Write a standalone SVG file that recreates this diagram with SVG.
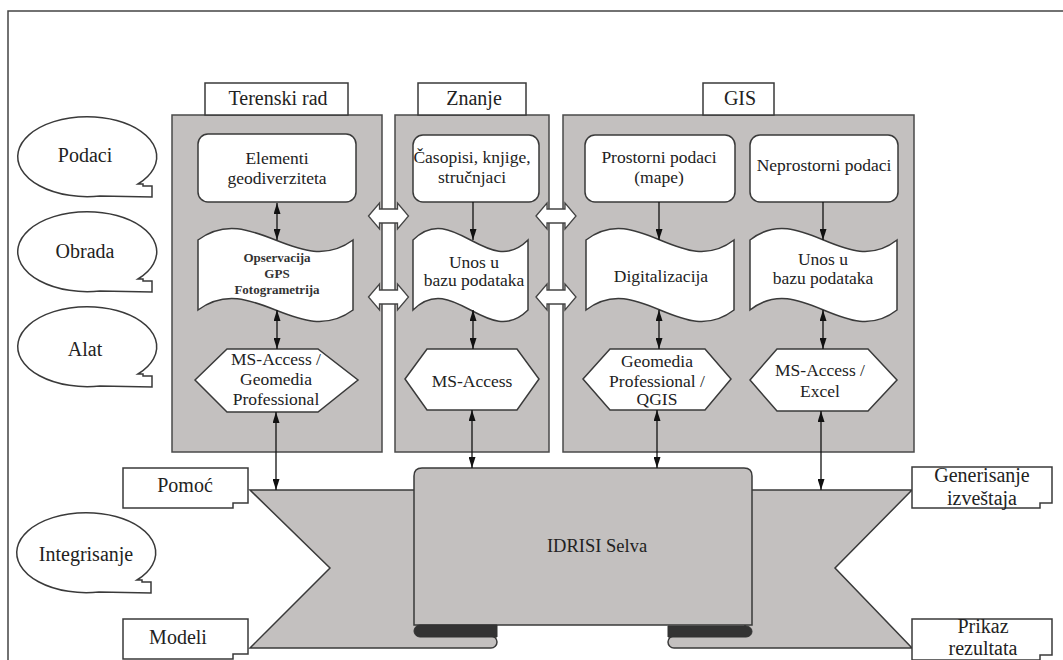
<svg xmlns="http://www.w3.org/2000/svg" width="1063" height="660" viewBox="0 0 1063 660">
<defs>
<marker id="ah" viewBox="0 0 11 7" refX="11" refY="3.5" markerWidth="11" markerHeight="7" markerUnits="userSpaceOnUse" orient="auto-start-reverse"><path d="M0,0 L11,3.5 L0,7 Z" fill="#111"/></marker>
<style>
.t{font-family:"Liberation Serif","Times New Roman",serif;fill:#222;text-anchor:middle}
.big{font-size:20px}
.nd{font-size:17.5px}
.sm{font-size:13px;font-weight:bold;fill:#333}
.panel{fill:#c3c0bf;stroke:#4a4a4a;stroke-width:1.5}
.box{fill:#fff;stroke:#3a3a3a;stroke-width:1.5}
.rib{fill:#c3c0bf;stroke:#3a3a3a;stroke-width:1.5}
.dark{fill:#333;stroke:#333;stroke-width:1}
.con{stroke:#111;stroke-width:1.3;fill:none}
.blk{fill:#fff;stroke:#444;stroke-width:1.3}
</style>
</defs>
<rect width="1063" height="660" fill="#fff"/>
<path d="M8,660 V11 H1063" fill="none" stroke="#444" stroke-width="1.5"/>

<g id="callout-podaci"><path class="box" d="M100,196 A69.5,40 0 1 1 138,184 L143,184 L143,186 L152,186 L152,197 Z"/><text class="t big" x="85" y="162">Podaci</text></g>
<g id="callout-obrada"><path class="box" d="M100,291 A69.5,40 0 1 1 138,279 L143,279 L143,281 L152,281 L152,292 Z"/><text class="t big" x="85" y="258">Obrada</text></g>
<g id="callout-alat"><path class="box" d="M100,386 A69.5,40 0 1 1 138,374 L143,374 L143,376 L152,376 L152,387 Z"/><text class="t big" x="85" y="356">Alat</text></g>
<g id="callout-integrisanje"><path class="box" d="M99,592 A69.5,40 0 1 1 137,580 L142,580 L142,582 L151,582 L151,593 Z"/><text class="t big" x="86" y="561">Integrisanje</text></g>

<g id="panel-teren"><rect class="panel" x="172" y="115" width="210" height="337"/><rect class="box" x="205" y="83" width="143" height="32"/><text class="t big" x="278" y="105">Terenski rad</text></g>
<g id="panel-znanje"><rect class="panel" x="395" y="115" width="154" height="337"/><rect class="box" x="418" y="83" width="108" height="32"/><text class="t big" x="474" y="105">Znanje</text></g>
<g id="panel-gis"><rect class="panel" x="563" y="115" width="351" height="337"/><rect class="box" x="703" y="83" width="71" height="32"/><text class="t big" x="740" y="105">GIS</text></g>

<g id="n-elementi"><rect class="box" x="198" y="134" width="158" height="68" rx="10"/><text class="t nd" x="277" y="164">Elementi</text><text class="t nd" x="277" y="184">geodiverziteta</text></g>
<g id="n-casopisi"><rect class="box" x="413" y="135" width="126" height="67" rx="10"/><text class="t nd" x="472" y="163">Časopisi, knjige,</text><text class="t nd" x="472" y="183">stručnjaci</text></g>
<g id="n-prostorni"><rect class="box" x="585" y="135" width="150" height="67" rx="10"/><text class="t nd" x="659" y="163">Prostorni podaci</text><text class="t nd" x="659" y="183">(mape)</text></g>
<g id="n-neprostorni"><rect class="box" x="750" y="135" width="148" height="67" rx="10"/><text class="t nd" x="824" y="171">Neprostorni podaci</text></g>

<g id="w-opservacija"><path class="box" d="M198,240 C252,200 299,280 353,240 L353,310 C299,350 252,270 198,310 Z"/><text class="t sm" x="277" y="262">Opservacija</text><text class="t sm" x="277" y="278">GPS</text><text class="t sm" x="277" y="294">Fotogrametrija</text></g>
<g id="w-unos1"><path class="box" d="M413,240 C453,200 488,280 528,240 L528,310 C488,350 453,270 413,310 Z"/><text class="t nd" x="474" y="268">Unos u</text><text class="t nd" x="474" y="286">bazu podataka</text></g>
<g id="w-digitalizacija"><path class="box" d="M586,240 C638,200 682,280 734,240 L734,310 C682,350 638,270 586,310 Z"/><text class="t nd" x="661" y="282">Digitalizacija</text></g>
<g id="w-unos2"><path class="box" d="M750,240 C801,200 846,280 897,240 L897,310 C846,350 801,270 750,310 Z"/><text class="t nd" x="823" y="265">Unos u</text><text class="t nd" x="823" y="284">bazu podataka</text></g>

<g id="h-msgeo"><polygon class="box" points="195,380 227,349 318,349 358,380 318,412 227,412"/><text class="t nd" x="276" y="365">MS-Access /</text><text class="t nd" x="276" y="385">Geomedia</text><text class="t nd" x="276" y="405">Professional</text></g>
<g id="h-ms"><polygon class="box" points="405,379 427,349 517,349 539,379 517,410 427,410"/><text class="t nd" x="472" y="387">MS-Access</text></g>
<g id="h-geoqgis"><polygon class="box" points="583,379 610,349 705,349 731,379 705,410 610,410"/><text class="t nd" x="657" y="367">Geomedia</text><text class="t nd" x="657" y="387">Professional /</text><text class="t nd" x="657" y="405">QGIS</text></g>
<g id="h-msexcel"><polygon class="box" points="750,380 777,349 868,349 897,380 868,411 777,411"/><text class="t nd" x="820" y="376">MS-Access /</text><text class="t nd" x="820" y="397">Excel</text></g>

<g id="idrisi">
<path class="rib" d="M250,490 L420,490 L420,636 L491,636 A6,6 0 0 1 491,648 L250,648 L330,568 Z"/>
<path class="rib" d="M912,490 L745,490 L745,636 L674,636 A6,6 0 0 0 674,648 L912,648 L835,568 Z"/>
<path class="rib" d="M414,625 V476 Q414,468 422,468 H744 Q752,468 752,476 V625 Z"/>
<path class="dark" d="M420,625 H497 V637 H420 A6,6 0 0 1 420,625 Z"/>
<path class="dark" d="M668,626 H746 A6,5.5 0 0 1 746,637 H668 Z"/>
<text class="t" style="font-size:18.5px" x="597" y="552">IDRISI Selva</text>
</g>

<g id="l-pomoc"><path class="box" d="M123,468 H248 V503 H233 V508 H123 Z"/><text class="t big" x="185" y="492">Pomoć</text></g>
<g id="l-modeli"><path class="box" d="M123,619 H248 V654 H233 V659 H123 Z"/><text class="t big" x="178" y="644">Modeli</text></g>
<g id="l-generisanje"><path class="box" d="M912,467 H1052 V503 H1040 V508 H912 Z"/><text class="t big" x="982" y="482">Generisanje</text><text class="t big" x="982" y="505">izveštaja</text></g>
<g id="l-prikaz"><path class="box" d="M912,619 H1052 V655 H1040 V660 H912 Z"/><text class="t big" x="983" y="633">Prikaz</text><text class="t big" x="983" y="655">rezultata</text></g>

<g id="connectors">
<path class="blk" d="M368.5,216 L379.5,203 L379.5,209 L397.5,209 L397.5,203 L408.5,216 L397.5,229 L397.5,223 L379.5,223 L379.5,229 Z"/>
<path class="blk" d="M368.5,297 L379.5,284 L379.5,290 L397.5,290 L397.5,284 L408.5,297 L397.5,310 L397.5,304 L379.5,304 L379.5,310 Z"/>
<path class="blk" d="M536,216 L547,203 L547,209 L565,209 L565,203 L576,216 L565,229 L565,223 L547,223 L547,229 Z"/>
<path class="blk" d="M536,297 L547,284 L547,290 L565,290 L565,284 L576,297 L565,310 L565,304 L547,304 L547,310 Z"/>
<line class="con" x1="277" y1="203" x2="277" y2="240" marker-start="url(#ah)" marker-end="url(#ah)"/>
<line class="con" x1="277" y1="310" x2="277" y2="349" marker-start="url(#ah)" marker-end="url(#ah)"/>
<line class="con" x1="276" y1="412" x2="276" y2="490" marker-start="url(#ah)" marker-end="url(#ah)"/>
<line class="con" x1="473" y1="202" x2="473" y2="240" marker-end="url(#ah)"/>
<line class="con" x1="473" y1="310" x2="473" y2="349" marker-start="url(#ah)" marker-end="url(#ah)"/>
<line class="con" x1="472" y1="410" x2="472" y2="468" marker-start="url(#ah)" marker-end="url(#ah)"/>
<line class="con" x1="659" y1="202" x2="659" y2="240" marker-end="url(#ah)"/>
<line class="con" x1="659" y1="310" x2="659" y2="349" marker-start="url(#ah)" marker-end="url(#ah)"/>
<line class="con" x1="657" y1="410" x2="657" y2="468" marker-start="url(#ah)" marker-end="url(#ah)"/>
<line class="con" x1="823" y1="202" x2="823" y2="240" marker-end="url(#ah)"/>
<line class="con" x1="823" y1="310" x2="823" y2="349" marker-start="url(#ah)" marker-end="url(#ah)"/>
<line class="con" x1="821" y1="411" x2="821" y2="490" marker-start="url(#ah)" marker-end="url(#ah)"/>
</g>
</svg>
